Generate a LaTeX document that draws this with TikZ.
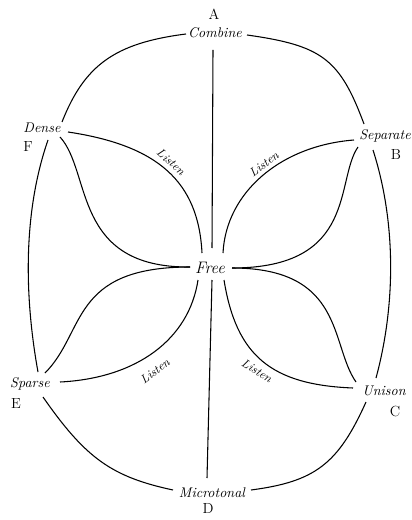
\documentclass[tikz,border=0pt]{standalone}
\usetikzlibrary{calc}
\begin{document}
\begin{tikzpicture}[x=0.75pt,y=-0.75pt,
  lbl/.style={font=\itshape\fontsize{10.5}{12}\selectfont, inner sep=0pt, anchor=base},
  freelbl/.style={font=\itshape\fontsize{12.5}{14}\selectfont, inner sep=0pt, anchor=base},
  letter/.style={font=\fontsize{11}{13}\selectfont, inner sep=0pt, anchor=base},
  listen/.style={font=\itshape\fontsize{9}{10}\selectfont, inner sep=0pt},
  ln/.style={line width=0.8pt, black}]
\useasboundingbox (0,0) rectangle (411,520);
% labels
\node[letter] (A) at (214,20) {A};
\node[lbl] (comb) at (215,38) {Combine};
\node[lbl] (dense) at (42,133) {Dense};
\node[letter] (F) at (28,152) {F};
\node[lbl] (sep) at (385,140) {Separate};
\node[letter] (B) at (396,160) {B};
\node[freelbl] (free) at (210,273) {Free};
\node[lbl] (sparse) at (30,387) {Sparse};
\node[letter] (E) at (16,408) {E};
\node[lbl] (unison) at (384,395) {Unison};
\node[letter] (C) at (395,416) {C};
\node[lbl] (micro) at (212,497) {Microtonal};
\node[letter] (D) at (208,513) {D};
% Listen labels
\node[listen, rotate=-42] (l1) at (171,162) {Listen};
\node[listen, rotate=37] (l2) at (264,164) {Listen};
\node[listen, rotate=37] (l3) at (155,371) {Listen};
\node[listen, rotate=-31] (l4) at (257,371) {Listen};
% outer oval
\draw[ln] ([shift={(-29,-4)}]comb.base) .. controls (115,43) and (84.5,65) .. ([shift={(20,-11)}]dense.base);
\draw[ln] ([shift={(32,-3)}]comb.base) .. controls (322,45.5) and (339.8,58.9) .. ([shift={(-21,-16)}]sep.base);
\draw[ln] ([shift={(6,7)}]dense.base) .. controls (22,215) and (25,300) .. ([shift={(8,-15)}]sparse.base);
\draw[ln] ([shift={(-12,10)}]sep.base) .. controls (397,225) and (395,308) .. ([shift={(-8,-17)}]unison.base);
\draw[ln] ([shift={(13,10)}]sparse.base) .. controls (85.6,458.2) and (111.6,476.8) .. ([shift={(-39,-7)}]micro.base);
\draw[ln] ([shift={(-18,7)}]unison.base) .. controls (338.1,464) and (315.1,481.6) .. ([shift={(39,-7)}]micro.base);
% vertical axis
\draw[ln] ([shift={(-2,12)}]comb.base) -- ([shift={(2,-25)}]free.base);
\draw[ln] ([shift={(2,7)}]free.base) -- ([shift={(-5,-19)}]micro.base);
% petals
\draw[ln] ([shift={(26,-1)}]dense.base) .. controls (158.2,145.5) and (198.4,181.8) .. ([shift={(-8,-20)}]free.base);
\draw[ln] ([shift={(18,4)}]dense.base) .. controls (92,172) and (72,268) .. ([shift={(-20,-6)}]free.base);
\draw[ln] ([shift={(-31,0)}]sep.base) .. controls (280.4,145.7) and (226,192.6) .. ([shift={(13,-20)}]free.base);
\draw[ln] ([shift={(-27,7)}]sep.base) .. controls (335,180) and (358,268) .. ([shift={(22,-5)}]free.base);
\draw[ln] ([shift={(15,-14)}]sparse.base) .. controls (86,332) and (70,267) .. ([shift={(-20,-6)}]free.base);
\draw[ln] ([shift={(30,-5)}]sparse.base) .. controls (136.6,378.2) and (189,339.4) .. ([shift={(-12,7)}]free.base);
\draw[ln] ([shift={(22,-5)}]free.base) .. controls (345,268) and (330,345) .. ([shift={(-28,-13)}]unison.base);
\draw[ln] ([shift={(14,7)}]free.base) .. controls (236.2,355.6) and (271,384.8) .. ([shift={(-31,-7)}]unison.base);
\end{tikzpicture}
\end{document}
